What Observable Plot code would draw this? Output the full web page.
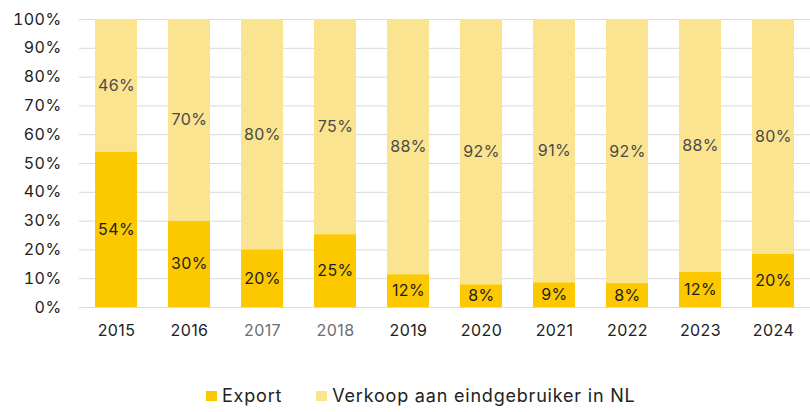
<!DOCTYPE html>
<html>
<head>
<meta charset="utf-8">
<script src="https://cdn.jsdelivr.net/npm/d3@7"></script>
<script src="https://cdn.jsdelivr.net/npm/@observablehq/plot@0.6"></script>
<style>
  html, body { margin: 0; padding: 0; background: #fff; }
  #wrap { position: relative; width: 810px; height: 412px; font-family: Inter, "Open Sans", sans-serif; }
  #legend { position: absolute; left: 206px; top: 385px; display: flex; align-items: center; font-size: 18px; letter-spacing: 0.8px; color: #222; }
  .sw { width: 11px; height: 10px; display: inline-block; margin-right: 5px; }
  .item { display: flex; align-items: center; margin-right: 34px; }
  svg text { letter-spacing: 0.4px; }
</style>
</head>
<body>
<div id="wrap"><div id="chart"></div><div id="legend"></div></div>
<script>
const years = ["2015","2016","2017","2018","2019","2020","2021","2022","2023","2024"];
const exportShare = [54, 30, 20, 25.3, 11.4, 7.9, 8.6, 8.3, 12.2, 18.4];
const exportLabels = ["54%","30%","20%","25%","12%","8%","9%","8%","12%","20%"];
const verkoopLabels = ["46%","70%","80%","75%","88%","92%","91%","92%","88%","80%"];
const seriesNames = ["Export", "Verkoop aan eindgebruiker in NL"];
const yTicks = [0,10,20,30,40,50,60,70,80,90,100];

const colors = {"Export": "#FCC900", "Verkoop aan eindgebruiker in NL": "#FBE48F"};
const labelColors = {"Export": "#1e1e1e", "Verkoop aan eindgebruiker in NL": "#4a4a4a"};
const greyYears = new Set(["2017","2018"]);

const rows = [];
years.forEach((y, i) => {
  rows.push({year: y, series: seriesNames[0], value: exportShare[i], label: exportLabels[i]});
  rows.push({year: y, series: seriesNames[1], value: 100 - exportShare[i], label: verkoopLabels[i]});
});

const chart = Plot.plot({
  width: 810,
  height: 345,
  marginLeft: 79,
  marginRight: 0,
  marginTop: 19,
  marginBottom: 38,
  style: {fontFamily: "Inter, 'Open Sans', sans-serif", fontSize: "16px", color: "#222", background: "#fff"},
  x: {domain: years, paddingInner: 0.43, paddingOuter: 0.2, label: null},
  y: {domain: [0, 100], label: null},
  color: {domain: seriesNames, range: seriesNames.map(s => colors[s])},
  marks: [
    Plot.gridY(yTicks, {stroke: "#d9d9d9", strokeOpacity: 1, strokeWidth: 1}),
    Plot.barY(rows, {x: "year", y: "value", fill: "series", z: "series", order: seriesNames}),
    Plot.text(rows, Plot.stackY({x: "year", y: "value", z: "series", order: seriesNames, text: "label",
      fill: d => labelColors[d.series], fontSize: 16})),
    Plot.axisY({ticks: yTicks, tickFormat: d => d + "%", tickSize: 0, tickPadding: 18, fontSize: 16, fill: "#222"}),
    Plot.axisX({tickSize: 0, tickPadding: 17, fontSize: 16, fill: d => greyYears.has(d) ? "#6e6e6e" : "#222"})
  ]
});
document.getElementById("chart").appendChild(chart);

const legend = document.getElementById("legend");
seriesNames.forEach(s => {
  const item = document.createElement("div");
  item.className = "item";
  const sw = document.createElement("span");
  sw.className = "sw";
  sw.style.background = colors[s];
  const t = document.createElement("span");
  t.textContent = s;
  item.appendChild(sw); item.appendChild(t);
  legend.appendChild(item);
});
</script>
</body>
</html>
